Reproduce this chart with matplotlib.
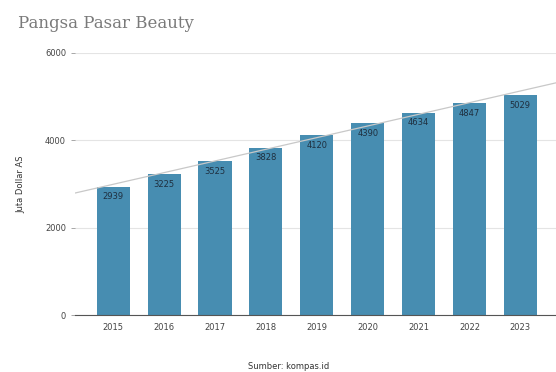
import matplotlib
matplotlib.use("Agg")
import matplotlib.pyplot as plt
import numpy as np

years = ["2015", "2016", "2017", "2018", "2019", "2020", "2021", "2022", "2023"]
values = [2939, 3225, 3525, 3828, 4120, 4390, 4634, 4847, 5029]
yticks = [0, 2000, 4000, 6000]

fig = plt.figure(figsize=(5.56, 3.72), dpi=100)
ax = fig.add_axes([0.135, 0.153, 0.865, 0.705])

x = np.arange(len(years))
bars = ax.bar(x, values, width=0.65, color="#478db1", zorder=2)

# linear trendline
coef = np.polyfit(x, values, 1)
xl = np.array([-0.75, 8.7])
ax.plot(xl, np.polyval(coef, xl), color="#c8c8c8", lw=0.9, zorder=3)

for xi, v in zip(x, values):
    ax.text(xi, v - 230, str(v), ha="center", va="center", fontsize=6,
            color="#1f2f3f", zorder=4)

ax.set_xlim(-0.75, 8.7)
ax.set_ylim(0, 6000)
ax.set_yticks(yticks)
ax.set_yticklabels([str(t) for t in yticks])
ax.set_xticks(x)
ax.set_xticklabels(years)
ax.tick_params(axis="both", labelsize=6, colors="#444444", length=3, width=0.6)
ax.tick_params(axis="x", length=0, pad=6)
ax.tick_params(axis="y", color="#999999")
ax.grid(axis="y", color="#e4e4e4", lw=0.8, zorder=0)
for s in ["top", "right", "left"]:
    ax.spines[s].set_visible(False)
ax.spines["bottom"].set_color("#555555")
ax.spines["bottom"].set_linewidth(0.8)
ax.spines["bottom"].set_zorder(3)

ax.set_ylabel("Juta Dollar AS", fontsize=6, color="#333333", labelpad=14)

fig.text(0.032, 0.938, "Pangsa Pasar Beauty", fontsize=12, color="#7a7a7a",
         family="DejaVu Serif", ha="left", va="center")
fig.text(0.52, 0.016, "Sumber: kompas.id", fontsize=6, color="#333333",
         ha="center", va="center")

fig.savefig("out.png", dpi=100)
